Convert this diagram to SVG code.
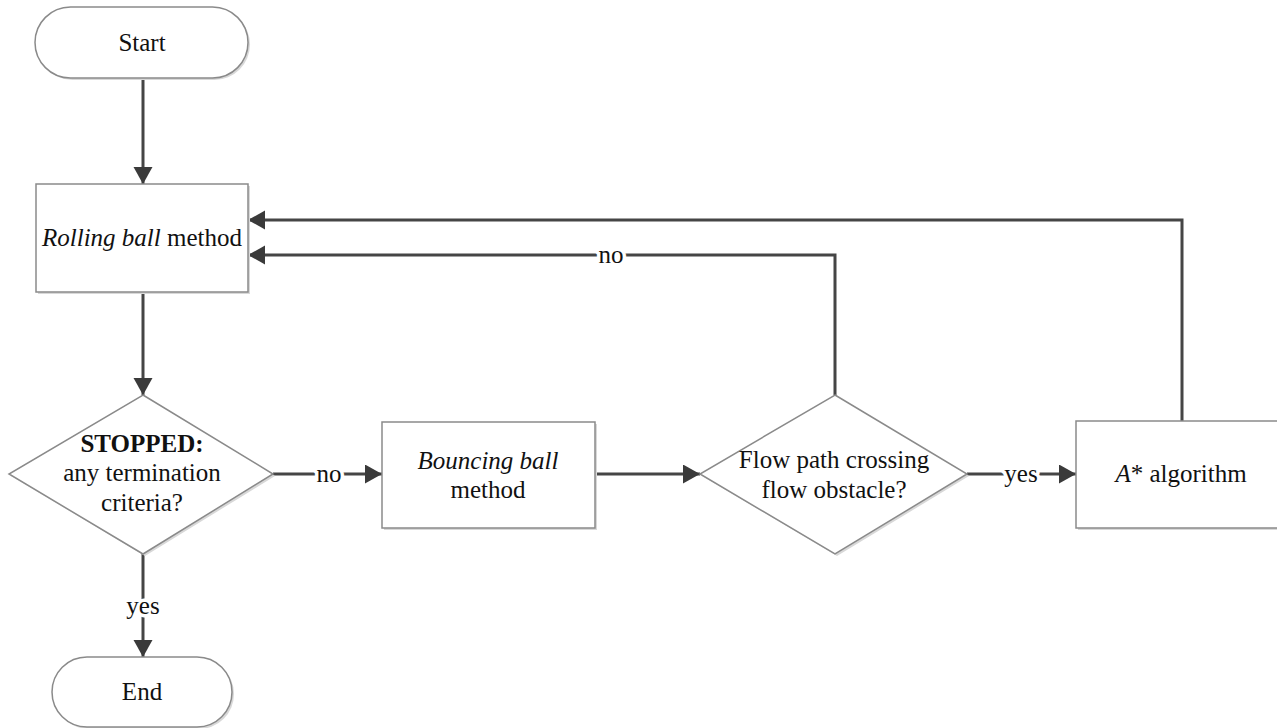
<svg xmlns="http://www.w3.org/2000/svg" width="1277" height="728" viewBox="0 0 1277 728">
  <style>
    .shape { fill: #ffffff; stroke: #8a8a8a; stroke-width: 1.5; }
    .shadow { fill: #d8d8d8; stroke: none; }
    .t { font-family: "Liberation Serif", "Times New Roman", serif; font-size: 25px; fill: #111; text-anchor: middle; }
    .edge { fill: none; stroke: #454545; stroke-width: 3; }
    .lbl { font-family: "Liberation Serif", "Times New Roman", serif; font-size: 25px; fill: #111; text-anchor: middle; stroke: #ffffff; stroke-width: 7; paint-order: stroke; stroke-linejoin: round; }
  </style>
  <defs>
    <marker id="arr" markerUnits="userSpaceOnUse" markerWidth="18" markerHeight="20" refX="17" refY="9.5" orient="auto">
      <path d="M0,0 L17,9.5 L0,19 Z" fill="#3a3a3a"/>
    </marker>
  </defs>
  <rect width="1277" height="728" fill="#ffffff"/>

  <g id="connectors">
    <line class="edge" x1="143" y1="78" x2="143" y2="184" marker-end="url(#arr)"/>
    <line class="edge" x1="143" y1="292" x2="143" y2="395" marker-end="url(#arr)"/>
    <line class="edge" x1="143" y1="554" x2="143" y2="657" marker-end="url(#arr)"/>
    <line class="edge" x1="273" y1="474" x2="382" y2="474" marker-end="url(#arr)"/>
    <line class="edge" x1="595" y1="474" x2="700" y2="474" marker-end="url(#arr)"/>
    <line class="edge" x1="967" y1="474" x2="1076" y2="474" marker-end="url(#arr)"/>
    <polyline class="edge" points="835,395 835,255 248,255" marker-end="url(#arr)"/>
    <polyline class="edge" points="1182,421 1182,220 248,220" marker-end="url(#arr)"/>
    <text class="lbl" x="143" y="614">yes</text>
    <text class="lbl" x="329" y="482">no</text>
    <text class="lbl" x="1021" y="482">yes</text>
    <text class="lbl" x="611" y="263">no</text>
  </g>

  <g id="start">
    <rect class="shadow" x="37" y="9" width="213" height="71" rx="35.5"/>
    <rect class="shape" x="35" y="7" width="213" height="71" rx="35.5"/>
    <text class="t" x="142" y="51">Start</text>
  </g>

  <g id="rolling">
    <rect class="shadow" x="38" y="186" width="212" height="108"/>
    <rect class="shape" x="36" y="184" width="212" height="108"/>
    <text class="t" x="142" y="246"><tspan font-style="italic">Rolling ball</tspan> method</text>
  </g>

  <g id="stopped">
    <polygon class="shadow" points="145,397 275,476 145,556 11,476"/>
    <polygon class="shape" points="143,395 273,474 143,554 9,474"/>
    <text class="t" x="142" y="452" font-weight="bold">STOPPED:</text>
    <text class="t" x="142" y="481">any termination</text>
    <text class="t" x="142" y="511">criteria?</text>
  </g>

  <g id="bouncing">
    <rect class="shadow" x="384" y="424" width="213" height="106"/>
    <rect class="shape" x="382" y="422" width="213" height="106"/>
    <text class="t" x="488" y="469" font-style="italic">Bouncing ball</text>
    <text class="t" x="488" y="498">method</text>
  </g>

  <g id="flow">
    <polygon class="shadow" points="837,397 969,476 837,556 702,476"/>
    <polygon class="shape" points="835,395 967,474 835,554 700,474"/>
    <text class="t" x="834" y="468">Flow path crossing</text>
    <text class="t" x="834" y="498">flow obstacle?</text>
  </g>

  <g id="astar">
    <rect class="shadow" x="1078" y="423" width="212" height="107"/>
    <rect class="shape" x="1076" y="421" width="212" height="107"/>
    <text class="t" x="1181" y="482"><tspan font-style="italic">A</tspan>* algorithm</text>
  </g>

  <g id="end">
    <rect class="shadow" x="54" y="659" width="180" height="70" rx="35"/>
    <rect class="shape" x="52" y="657" width="180" height="70" rx="35"/>
    <text class="t" x="142" y="700">End</text>
  </g>
</svg>
